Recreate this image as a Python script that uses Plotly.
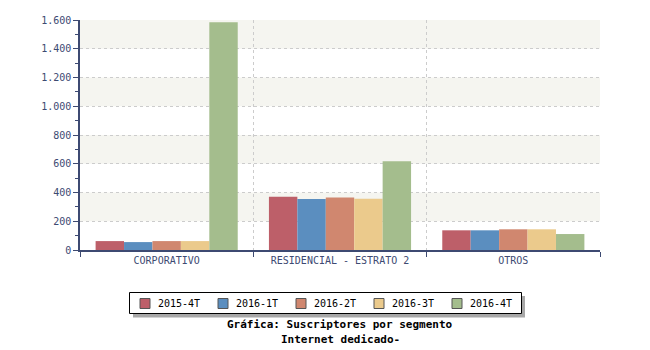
import plotly.graph_objects as go

# Subscribers per segment, quarterly
categories = ["CORPORATIVO", "RESIDENCIAL - ESTRATO 2", "OTROS"]
periods = ["2015-4T", "2016-1T", "2016-2T", "2016-3T", "2016-4T"]
values = {
    "2015-4T": [62, 371, 137],
    "2016-1T": [55, 355, 137],
    "2016-2T": [62, 366, 144],
    "2016-3T": [62, 357, 144],
    "2016-4T": [1584, 617, 111],
}
colors = ["#bd5f69", "#5b8ebf", "#d0876f", "#ebca8c", "#a4bd8d"]
y_ticks = [0, 200, 400, 600, 800, 1000, 1200, 1400, 1600]

axis_color = "#3d4a72"
mono = "DejaVu Sans Mono"

# plot area in pixels (used to place the legend box below it)
L, R, T, B = 80, 600, 20, 250
W, H = 650, 350


def px(x):
    return (x - L) / (R - L)


def py(y):
    return (B - y) / (B - T)


fig = go.Figure()
for name, col in zip(periods, colors):
    fig.add_trace(go.Bar(
        x=categories, y=values[name], name=name,
        marker=dict(color=col, line=dict(width=0)),
        showlegend=False,
    ))

shapes = []
# alternating horizontal bands behind the bars
for i in range(len(y_ticks) - 1):
    if i % 2 == 1:
        shapes.append(dict(type="rect", xref="paper", yref="y", layer="below",
                           x0=0, x1=1, y0=y_ticks[i], y1=y_ticks[i + 1],
                           fillcolor="#f5f5f0", line=dict(width=0)))

# legend box with drop shadow
shapes.append(dict(type="rect", xref="paper", yref="paper", layer="above",
                   x0=px(133), x1=px(525), y0=py(317.5), y1=py(296),
                   fillcolor="#a8a8a8", line=dict(width=0)))
shapes.append(dict(type="rect", xref="paper", yref="paper", layer="above",
                   x0=px(129.5), x1=px(521.5), y0=py(313.5), y1=py(292.5),
                   fillcolor="white", line=dict(color="#000000", width=1)))

annotations = []
for i, (name, col) in enumerate(zip(periods, colors)):
    sx = 140 + 78 * i
    shapes.append(dict(type="rect", xref="paper", yref="paper", layer="above",
                       x0=px(sx), x1=px(sx + 10), y0=py(308.5), y1=py(298.5),
                       fillcolor=col, line=dict(color="#555555", width=1)))
    annotations.append(dict(text=name, xref="paper", yref="paper",
                            x=px(sx + 16), y=py(303.5), xanchor="left", yanchor="middle",
                            showarrow=False,
                            font=dict(family=mono, size=10, color="#000000")))

annotations += [
    dict(text="<b>Gráfica: Suscriptores por segmento</b>", xref="paper", yref="paper",
         x=0.5, y=py(324), xanchor="center", yanchor="middle", showarrow=False,
         font=dict(family=mono, size=11, color="#000000")),
    dict(text="<b>Internet dedicado-</b>", xref="paper", yref="paper",
         x=0.5, y=py(339), xanchor="center", yanchor="middle", showarrow=False,
         font=dict(family=mono, size=11, color="#000000")),
]

fig.update_layout(
    width=W, height=H,
    margin=dict(l=L, r=W - R, t=T, b=H - B),
    paper_bgcolor="white", plot_bgcolor="white",
    separators=",.",
    barmode="group", bargap=0.18, bargroupgap=0,
    showlegend=False,
    shapes=shapes,
    annotations=annotations,
    font=dict(family=mono),
)

fig.update_xaxes(
    type="category", showline=True, linecolor=axis_color, linewidth=1.5,
    ticks="outside", tickson="boundaries", ticklen=5, tickcolor=axis_color, tickwidth=1,
    showgrid=True, gridcolor="#cccccc", griddash="dot", gridwidth=1,
    tickfont=dict(family=mono, size=10, color=axis_color), zeroline=False,
)
fig.update_yaxes(
    range=[0, 1600], tickvals=y_ticks, tickformat=",d",
    showline=True, linecolor=axis_color, linewidth=1.5,
    ticks="outside", ticklen=5, tickcolor=axis_color, tickwidth=1,
    minor=dict(dtick=100, ticks="outside", ticklen=3, tickcolor=axis_color, showgrid=False),
    showgrid=True, gridcolor="#cccccc", griddash="dot", gridwidth=1,
    tickfont=dict(family=mono, size=10, color=axis_color), zeroline=False,
)

fig.write_html("out.html")
